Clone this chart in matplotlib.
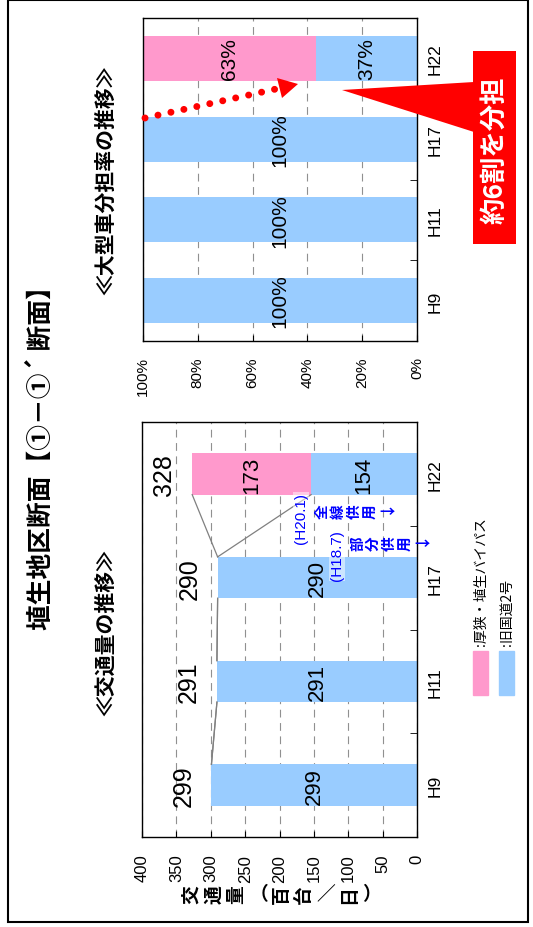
import matplotlib
matplotlib.use('Agg')
import matplotlib.pyplot as plt
from matplotlib import font_manager
from matplotlib.patches import Rectangle, Polygon

# traffic volume (百台/日) and heavy-vehicle share (%) by survey year
years = ['H9', 'H11', 'H17', 'H22']
old_route = [299, 291, 290, 154]      # 旧国道2号
bypass = [0, 0, 0, 173]               # 厚狭・埴生バイパス
totals = [299, 291, 290, 328]
share_old = [100, 100, 100, 37]
share_bypass = [0, 0, 0, 63]
series_names = ['厚狭・埴生バイパス', '旧国道2号']
pink, blue = '#FF99CC', '#99CCFF'

JP = ['Noto Sans CJK JP', 'DejaVu Sans']
installed = {f.name for f in font_manager.fontManager.ttflist}
TICK = ['Liberation Sans', 'DejaVu Sans']
NUM = ['Liberation Sans Narrow' if 'Liberation Sans Narrow' in installed else 'Liberation Sans',
       'DejaVu Sans']
plt.rcParams['font.family'] = JP

W, H = 533, 928
fig = plt.figure(figsize=(W / 100, H / 100), dpi=100)


def px_axes(x0, y0, x1, y1):
    return fig.add_axes([x0 / W, 1 - y1 / H, (x1 - x0) / W, (y1 - y0) / H])


def style(ax, xmax, step, fmt, pad, size):
    ax.set_xlim(xmax, 0)
    ax.set_ylim(-0.5, len(years) - 0.5)
    ticks = list(range(0, xmax + 1, step))
    ax.set_xticks(ticks)
    ax.set_xticklabels([fmt(v) for v in ticks], rotation=90, family=TICK, fontsize=size)
    ax.grid(axis='x', color='#909090', lw=0.8, linestyle=(0, (7, 5)))
    ax.set_axisbelow(True)
    ax.yaxis.tick_right()
    ax.set_yticks(range(len(years)))
    ax.set_yticklabels(years, rotation=90, va='center', family=TICK, fontsize=12.5)
    ax.set_yticks([k + 0.5 for k in range(len(years) - 1)], minor=True)
    ax.tick_params(axis='y', which='major', length=0, pad=8)
    ax.tick_params(axis='y', which='minor', direction='in', length=5)
    ax.tick_params(axis='x', direction='in', length=4, pad=pad)
    for s in ax.spines.values():
        s.set_linewidth(1.0)


pos = range(len(years))

# ---- traffic volume
ax_v = px_axes(142, 423, 417, 838)
style(ax_v, 400, 50, str, 12, 12)
bw = 0.4
ax_v.barh(pos, old_route, height=bw, color=blue)
ax_v.barh(pos, bypass, left=old_route, height=bw, color=pink)
cum = [a + b for a, b in zip(old_route, bypass)]
for i in range(len(years) - 1):
    for c in (old_route, cum):
        ax_v.plot([c[i], c[i + 1]], [i + bw / 2, i + 1 - bw / 2], color='#808080', lw=0.9)
for i in pos:
    if old_route[i]:
        ax_v.text(old_route[i] / 2, i, str(old_route[i]), rotation=90, ha='center',
                  va='center', family=NUM, fontsize=16)
    if bypass[i]:
        ax_v.text(old_route[i] + bypass[i] / 2, i, str(bypass[i]), rotation=90,
                  ha='center', va='center', family=NUM, fontsize=16)
    ax_v.annotate(str(totals[i]), xy=(cum[i], i), xytext=(-20, 0),
                  textcoords='offset points', rotation=90, ha='center', va='center',
                  family=NUM, fontsize=18)

# ---- heavy-vehicle share
ax_s = px_axes(143, 19, 417, 342)
style(ax_s, 100, 20, lambda v: f'{v}%', 11, 11)
sw = 0.56
ax_s.barh(pos, share_old, height=sw, color=blue)
ax_s.barh(pos, share_bypass, left=share_old, height=sw, color=pink)
for i in pos:
    if share_old[i]:
        ax_s.text(share_old[i] / 2, i, f'{share_old[i]}%', rotation=90, ha='center',
                  va='center', family=NUM, fontsize=15)
    if share_bypass[i]:
        ax_s.text(share_old[i] + share_bypass[i] / 2, i, f'{share_bypass[i]}%',
                  rotation=90, ha='center', va='center', family=NUM, fontsize=15)

# ---- page decorations (pixel coordinates)
ov = fig.add_axes([0, 0, 1, 1])
ov.set_xlim(0, W)
ov.set_ylim(H, 0)
ov.axis('off')
ov.patch.set_alpha(0)

ov.add_patch(Rectangle((7.5, 0.8), 520.5, 922, fill=False, lw=1.5, ec='black'))

ov.text(41, 452, '埴生地区断面【①－①´ 断面】', rotation=90, ha='center', va='center',
        fontsize=18.5, fontweight='bold', family=JP)
ov.text(106, 633, '≪交通量の推移≫', rotation=90, ha='center', va='center',
        fontsize=15, fontweight='bold')
ov.text(106, 180, '≪大型車分担率の推移≫', rotation=90, ha='center', va='center',
        fontsize=15, fontweight='bold')


def stacked(x0, y, chars, step, **kw):
    for k, ch in enumerate(chars):
        ov.text(x0 + k * step, y, ch, rotation=90, ha='center', va='center', **kw)


# axis title written vertically
for k, ch in enumerate('交通量（百台／日）'):
    rot = 0 if ch in '（）／' else 90
    ov.text(191 + k * 22.5, 895, ch, rotation=rot, ha='center', va='center',
            fontsize=13.5, fontweight='bold')

# opening notes
note_box = dict(facecolor='white', alpha=0.5, edgecolor='none', pad=0.5)
ov.text(301, 519, '(H20.1)', rotation=90, ha='center', va='center', color='blue',
        family=TICK, fontsize=11, bbox=note_box)
ov.text(337, 556, '(H18.7)', rotation=90, ha='center', va='center', color='blue',
        family=TICK, fontsize=11, bbox=note_box)
stacked(322, 512, '全線供用', 16, color='blue', fontsize=10.5, fontweight='bold')
ov.text(387, 512, '→', ha='center', va='center', color='blue', fontsize=11,
        fontweight='bold')
stacked(357, 544, '部分供用', 16, color='blue', fontsize=10.5, fontweight='bold')
ov.text(422, 544, '→', ha='center', va='center', color='blue', fontsize=11,
        fontweight='bold')

# legend
for k, (name, col) in enumerate(zip(series_names, [pink, blue])):
    x = 473 + k * 26
    ov.add_patch(Rectangle((x, 652), 15, 44, color=col))
    ov.text(x + 7.5, 646, ':' + name, rotation=90, ha='center', va='bottom', fontsize=10)

# red callout
ov.add_patch(Polygon([(342, 91), (474, 83), (474, 133)], closed=True, color='red', lw=0))
ov.add_patch(Rectangle((473, 52), 43, 193, color='red', lw=0))
ov.text(494.5, 150, '約6割を分担', rotation=90, ha='center', va='center', color='white',
        fontsize=19, fontweight='bold')
ov.plot([145, 276], [119, 90], color='red', lw=5, linestyle=(0, (0.01, 1.9)),
        dash_capstyle='round')
ov.add_patch(Polygon([(298, 85), (277, 79), (282, 99)], closed=True, color='red', lw=0))

fig.savefig('out.png', dpi=100)
